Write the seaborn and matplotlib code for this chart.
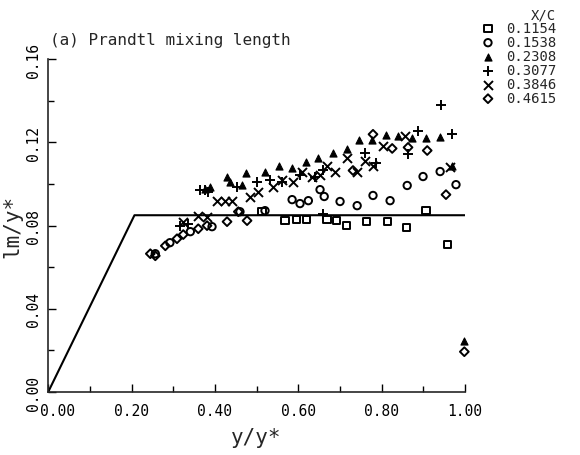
import numpy as np
import pandas as pd
import matplotlib
matplotlib.use("Agg")
import matplotlib.pyplot as plt
import seaborn as sns
from matplotlib.ticker import MultipleLocator, FormatStrFormatter
from matplotlib.transforms import ScaledTranslation

sns.set_theme(style="ticks")
plt.rcParams['font.family'] = ['DejaVu Sans Mono', 'DejaVu Sans']

# ---- data ----
labels = ["0.1154", "0.1538", "0.2308", "0.3077", "0.3846", "0.4615"]

x_1154 = [0.513, 0.568, 0.595, 0.619, 0.669, 0.691, 0.715, 0.763, 0.813, 0.859, 0.906, 0.957]
y_1154 = [0.0867, 0.0824, 0.0829, 0.0829, 0.0829, 0.0824, 0.0800, 0.0819, 0.0819, 0.0790, 0.0872, 0.0708]

x_1538 = [0.257, 0.292, 0.341, 0.393, 0.460, 0.520, 0.585, 0.604, 0.624, 0.652, 0.662, 0.700, 0.741,
          0.779, 0.820, 0.861, 0.899, 0.940, 0.978]
y_1538 = [0.0665, 0.0718, 0.0771, 0.0795, 0.0867, 0.0872, 0.0925, 0.0906, 0.0920, 0.0973, 0.0940, 0.0916,
          0.0896, 0.0945, 0.0920, 0.0993, 0.1036, 0.1060, 0.0997]

x_2308 = [0.376, 0.388, 0.429, 0.436, 0.465, 0.475, 0.520, 0.554, 0.585, 0.619, 0.647, 0.683, 0.717,
          0.746, 0.777, 0.811, 0.839, 0.873, 0.906, 0.940, 0.969, 0.998]
y_2308 = [0.0978, 0.0988, 0.1036, 0.1012, 0.0997, 0.1051, 0.1060, 0.1089, 0.1075, 0.1108, 0.1123, 0.1147,
          0.1166, 0.1210, 0.1210, 0.1234, 0.1229, 0.1219, 0.1219, 0.1224, 0.1089, 0.0246]

x_3077 = [0.317, 0.336, 0.365, 0.376, 0.384, 0.453, 0.501, 0.532, 0.561, 0.604, 0.640, 0.659, 0.660,
          0.760, 0.787, 0.863, 0.887, 0.942, 0.969]
y_3077 = [0.0800, 0.0810, 0.0969, 0.0969, 0.0964, 0.0988, 0.1012, 0.1017, 0.1012, 0.1041, 0.1036, 0.0858,
          0.1065, 0.1147, 0.1099, 0.1142, 0.1253, 0.1378, 0.1239]

x_3846 = [0.324, 0.360, 0.381, 0.405, 0.424, 0.441, 0.484, 0.504, 0.540, 0.561, 0.587, 0.609, 0.633,
          0.652, 0.669, 0.688, 0.717, 0.741, 0.760, 0.779, 0.803, 0.856, 0.964]
y_3846 = [0.0819, 0.0848, 0.0843, 0.0916, 0.0916, 0.0916, 0.0940, 0.0964, 0.0988, 0.1017, 0.1012, 0.1060,
          0.1036, 0.1041, 0.1085, 0.1060, 0.1123, 0.1060, 0.1113, 0.1089, 0.1185, 0.1229, 0.1084]

x_4615 = [0.245, 0.257, 0.281, 0.309, 0.324, 0.360, 0.381, 0.429, 0.456, 0.477, 0.731, 0.779, 0.825,
          0.863, 0.909, 0.954, 0.998]
y_4615 = [0.0665, 0.0655, 0.0703, 0.0737, 0.0757, 0.0785, 0.0800, 0.0819, 0.0867, 0.0824, 0.1065, 0.1239,
          0.1171, 0.1176, 0.1161, 0.0949, 0.0194]

line_x = [0.0, 0.207, 1.0]
line_y = [0.0, 0.085, 0.085]

xs = [x_1154, x_1538, x_2308, x_3077, x_3846, x_4615]
ys = [y_1154, y_1538, y_2308, y_3077, y_3846, y_4615]

markers = ["s", "o", "^", "+", "x", "D"]
sizes = [28, 28, 26, 50, 42, 20]
widths = [1.4, 1.4, 0.8, 1.4, 1.4, 1.4]
open_marker = [True, True, False, False, False, True]

fig = plt.figure(figsize=(5.8, 4.56), dpi=100)
ax = fig.add_axes([0.083, 0.138, 0.719, 0.730])

sns.lineplot(x=line_x, y=line_y, color="black", linewidth=1.5, ax=ax, sort=False)

for xv, yv, lab, m, s, lw, op in zip(xs, ys, labels, markers, sizes, widths, open_marker):
    df = pd.DataFrame({"x": xv, "y": yv})
    before = len(ax.collections)
    sns.scatterplot(data=df, x="x", y="y", marker=m, s=s, color="black",
                    ax=ax, label=lab, legend=False, clip_on=False, linewidth=lw)
    coll = ax.collections[before]
    coll.set_edgecolor("black")
    if op:
        coll.set_facecolor("none")
    else:
        coll.set_facecolor("black")
    coll.set_label(lab)

ax.set_xlim(0, 1.0)
ax.set_ylim(0, 0.16)
ax.xaxis.set_major_locator(MultipleLocator(0.2))
ax.xaxis.set_minor_locator(MultipleLocator(0.1))
ax.yaxis.set_major_locator(MultipleLocator(0.04))
ax.yaxis.set_minor_locator(MultipleLocator(0.02))
ax.xaxis.set_major_formatter(FormatStrFormatter("%.2f"))
ax.yaxis.set_major_formatter(FormatStrFormatter("%.2f"))
ax.tick_params(which="both", direction="in", colors="black", labelsize=10.5, width=1.0)
ax.tick_params(which="major", length=6)
ax.tick_params(which="minor", length=4)
ax.tick_params(axis="x", pad=8)
ax.tick_params(axis="y", pad=5)
for lbl in ax.get_yticklabels():
    lbl.set_rotation(90)
    lbl.set_va("center")
sns.despine(ax=ax)
ax.spines["left"].set_linewidth(1.2)
ax.spines["bottom"].set_linewidth(1.2)

ax.set_xlabel("y/y*", fontsize=15, labelpad=6)
ax.set_ylabel("lm/y*", fontsize=15, labelpad=3)

fig.text(0.086, 0.895, "(a) Prandtl mixing length", fontsize=11.5, ha="left", va="bottom")

handles, labs = ax.get_legend_handles_labels()
keep = [(h, l) for h, l in zip(handles, labs) if l in labels]
leg = fig.legend([h for h, _ in keep], [l for _, l in keep], title="X/C",
                 loc="upper left", bbox_to_anchor=(0.815, 1.0), frameon=False,
                 fontsize=10, title_fontsize=10, handletextpad=0.8, labelspacing=0.0,
                 borderaxespad=0.2, handlelength=1.0)
leg._legend_box.align = "right"

# nudge the x tick label at 0 to the right, as in the reference
fig.canvas.draw()
locs = list(ax.xaxis.get_majorticklocs())
ticks = ax.xaxis.get_major_ticks()
for loc, tk in zip(locs, ticks):
    if abs(loc) < 1e-9:
        lab0 = tk.label1
        lab0.set_transform(lab0.get_transform() + ScaledTranslation(0.09, 0, fig.dpi_scale_trans))

fig.savefig("out.png", dpi=100)
